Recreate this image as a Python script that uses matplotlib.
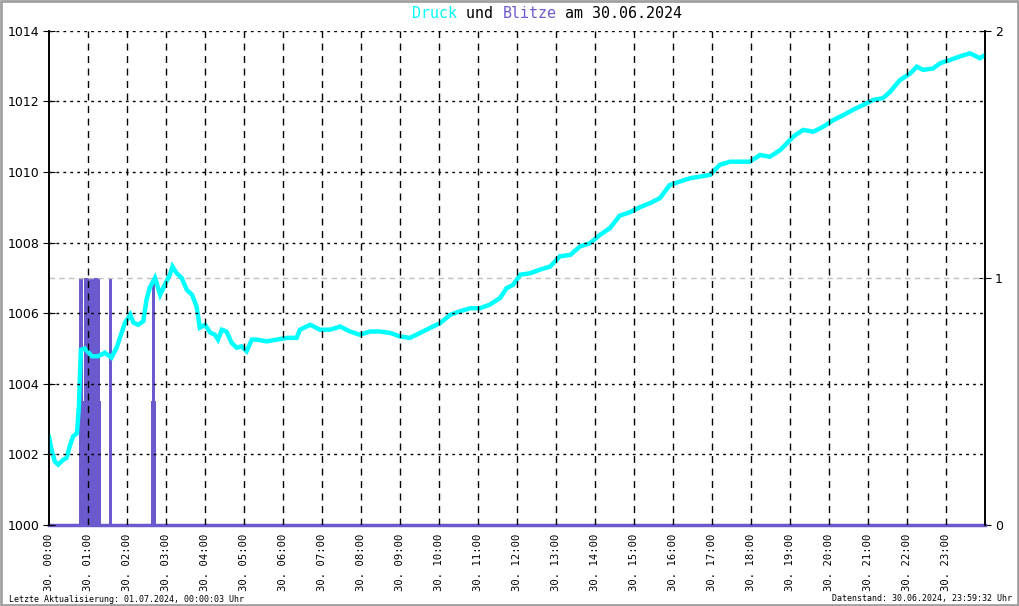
import matplotlib
matplotlib.use("Agg")
import matplotlib.pyplot as plt
from matplotlib.patches import Rectangle

# Luftdruck (hPa): Minute des Tages -> Wert
druck_min = [0, 4, 9, 14, 22, 27, 32, 37, 43, 46, 49, 55, 66, 76, 86, 96, 104, 109,
             117, 125, 130, 137, 145, 150, 155, 163, 171, 178, 186, 190, 196, 204,
             212, 220, 227, 232, 240, 248, 255, 260, 266, 273, 281, 289, 296, 304,
             312, 320, 335, 350, 366, 381, 386, 402, 417, 432, 448, 463, 478, 494,
             509, 525, 540, 555, 571, 586, 602, 617, 632, 648, 663, 678, 694, 704,
             714, 725, 740, 755, 771, 786, 802, 817, 832, 848, 863, 878, 894, 909,
             925, 940, 955, 971, 986, 1002, 1017, 1032, 1048, 1063, 1078, 1094, 1109,
             1125, 1135, 1145, 1160, 1176, 1191, 1207, 1222, 1237, 1253, 1268, 1283,
             1294, 1309, 1325, 1335, 1345, 1360, 1371, 1386, 1401, 1417, 1432, 1440]
druck_hpa = [1002.50, 1002.13, 1001.80, 1001.71, 1001.85, 1001.90, 1002.23, 1002.51,
             1002.60, 1003.36, 1004.96, 1005.00, 1004.78, 1004.78, 1004.88, 1004.74,
             1005.02, 1005.30, 1005.73, 1005.96, 1005.73, 1005.67, 1005.77, 1006.38,
             1006.72, 1007.00, 1006.52, 1006.80, 1007.09, 1007.32, 1007.14, 1007.00,
             1006.66, 1006.52, 1006.19, 1005.59, 1005.67, 1005.45, 1005.39, 1005.25,
             1005.53, 1005.48, 1005.16, 1005.02, 1005.06, 1004.92, 1005.25, 1005.25,
             1005.20, 1005.25, 1005.30, 1005.30, 1005.53, 1005.67, 1005.53, 1005.53,
             1005.62, 1005.48, 1005.39, 1005.48, 1005.48, 1005.44, 1005.34, 1005.30,
             1005.44, 1005.58, 1005.72, 1005.95, 1006.05, 1006.14, 1006.14, 1006.24,
             1006.43, 1006.71, 1006.80, 1007.09, 1007.13, 1007.23, 1007.32, 1007.61,
             1007.65, 1007.89, 1007.98, 1008.22, 1008.41, 1008.76, 1008.86, 1009.00,
             1009.12, 1009.26, 1009.63, 1009.73, 1009.82, 1009.87, 1009.92, 1010.20,
             1010.29, 1010.29, 1010.29, 1010.48, 1010.43, 1010.62, 1010.81, 1011.00,
             1011.19, 1011.14, 1011.28, 1011.47, 1011.61, 1011.76, 1011.90, 1012.04,
             1012.09, 1012.27, 1012.60, 1012.79, 1012.98, 1012.89, 1012.93, 1013.08,
             1013.17, 1013.27, 1013.36, 1013.22, 1013.31]

# Blitze: Intervall (Minuten) und Wert
blitz_start = [46, 46, 54, 92, 157, 159]
blitz_end = [80, 52, 79, 97, 164, 163]
blitz_val = [0.5, 1, 1, 1, 0.5, 1]

hours = list(range(24))
xlabels = [f"30. {h:02d}:00" for h in hours]
cyan = "#00ffff"
purple = "#6a5acd"

fig = plt.figure(figsize=(10.2, 6.06), dpi=100)
ax = fig.add_axes([49/1020, 1 - 525/606, (985-49)/1020, (525-30.7)/606])
axb = ax.twinx()
ax.set_zorder(2)
axb.set_zorder(1)
ax.patch.set_visible(False)

# lightning bars (right axis)
widths = [e - s for s, e in zip(blitz_start, blitz_end)]
axb.bar(blitz_start, blitz_val, width=widths, align="edge", color=purple, linewidth=0)
axb.plot([0, 1440], [0, 0], color=purple, lw=2.5, clip_on=False)
axb.set_ylim(0, 2)
axb.set_yticks([0, 1, 2])
axb.axhline(1, color="#c0c0c0", lw=1, ls=(0, (4, 3)))
axb.tick_params(axis="y", direction="inout", length=8, labelsize=9, pad=3)

# pressure line
ax.plot(druck_min, druck_hpa, color=cyan, lw=3.2, solid_joinstyle="miter")
ax.set_xlim(0, 1440)
ax.set_ylim(1000, 1014)
ax.set_yticks(range(1000, 1015, 2))
ax.tick_params(axis="y", direction="inout", length=8, labelsize=9, pad=3)
ax.set_xticks([h * 60 for h in hours])
ax.set_xticklabels(xlabels, rotation=90, family="DejaVu Sans Mono", fontsize=7.6)
ax.tick_params(axis="x", length=0, pad=6)

for v in range(1002, 1015, 2):
    ax.axhline(v, color="black", lw=1, ls=(0, (2, 3)))
for h in hours[1:]:
    ax.axvline(h * 60, color="black", lw=1, ls=(0, (5, 4)))

for a in (ax, axb):
    a.spines["top"].set_visible(False)
    a.spines["bottom"].set_visible(False)
    a.spines["left"].set_linewidth(1.2)
    a.spines["right"].set_linewidth(1.2)

# title in colored parts (monospace)
fs = 10.8
cw = 0.602 * fs * 100 / 72 / 1020
parts = [("Druck", cyan), (" und ", "black"), ("Blitze", purple), (" am 30.06.2024", "black")]
x0 = 412 / 1020
for txt, col in parts:
    fig.text(x0, 1 - 13 / 606, txt, color=col, fontsize=fs, family="DejaVu Sans Mono",
             ha="left", va="center")
    x0 += len(txt) * cw

fig.text(9 / 1020, 1 - 599 / 606, "Letzte Aktualisierung: 01.07.2024, 00:00:03 Uhr",
         fontsize=6, family="DejaVu Sans Mono", ha="left", va="center")
fig.text(1012 / 1020, 1 - 599 / 606, "Datenstand: 30.06.2024, 23:59:32 Uhr",
         fontsize=6, family="DejaVu Sans Mono", ha="right", va="center")

fig.patches.append(Rectangle((0.001, 0.002), 0.997, 0.996, transform=fig.transFigure,
                             fill=False, edgecolor="#a0a0a0", lw=2))

fig.savefig("out.png", dpi=100)
